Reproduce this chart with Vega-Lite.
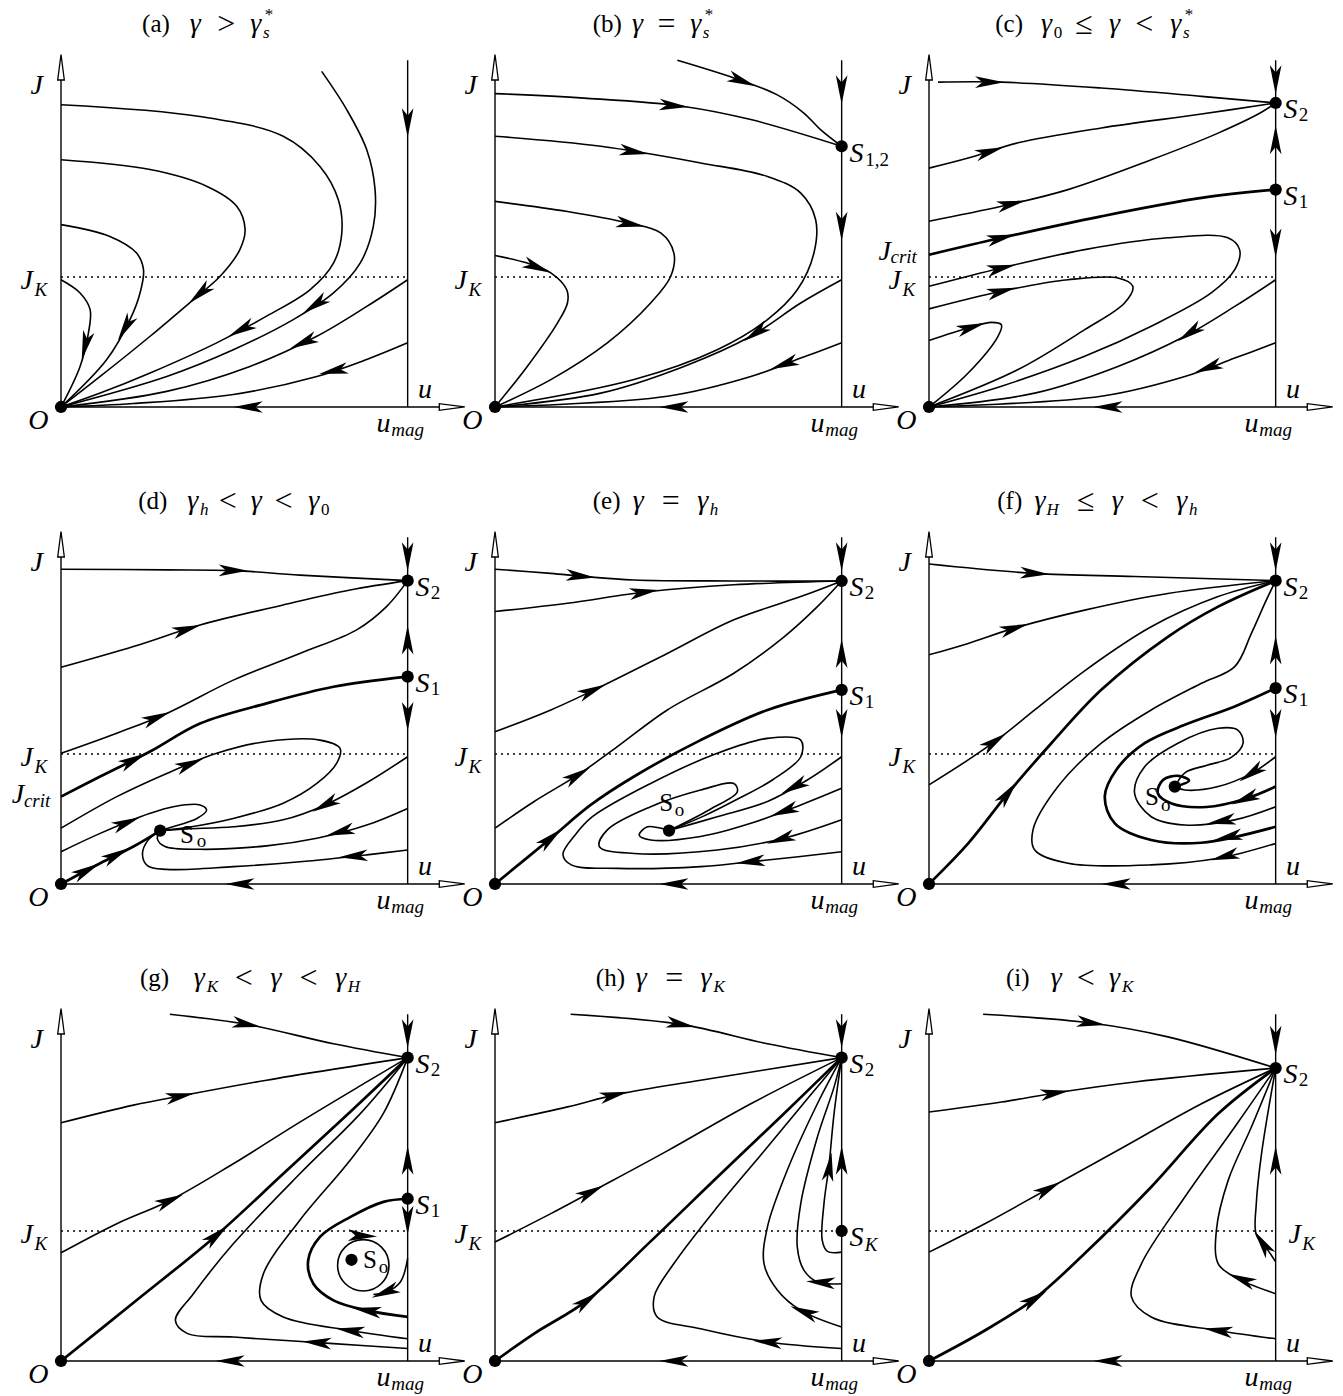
{
"$schema":"https://vega.github.io/schema/vega-lite/v6.json",
"padding":0,
"background":"white",
"spacing":0,
"bounds":"flush",
"columns":3,
"config":{"view":{"stroke":null},"text":{"font":"Liberation Serif","baseline":"middle","align":"center","color":"#000"}},
"datasets":{
"ax":[
{"c":"J","i":0,"u":0,"J":0},{"c":"J","i":1,"u":0,"J":0.99},
{"c":"u","i":0,"u":0,"J":0},{"c":"u","i":1,"u":1.13,"J":0},
{"c":"m","i":0,"u":1,"J":0},{"c":"m","i":1,"u":1,"J":1.0},
{"c":"k","i":0,"u":0,"J":0.375},{"c":"k","i":1,"u":1,"J":0.375}
],
"tp":[{"u":1.128,"J":0,"a":0},{"u":0,"J":0.98,"a":-90}],
"cy":[{"p":"g","u":0.872,"J":0.276}],
"fp":[
{"p":"*","u":0,"J":0},
{"p":"b","u":1,"J":0.752},
{"p":"c","u":1,"J":0.877},{"p":"c","u":1,"J":0.627},
{"p":"d","u":1,"J":0.875},{"p":"d","u":1,"J":0.598},{"p":"d","u":0.286,"J":0.154},
{"p":"e","u":1,"J":0.874},{"p":"e","u":1,"J":0.56},{"p":"e","u":0.502,"J":0.154},
{"p":"f","u":1,"J":0.875},{"p":"f","u":1,"J":0.565},{"p":"f","u":0.709,"J":0.281},
{"p":"g","u":1,"J":0.875},{"p":"g","u":1,"J":0.468},{"p":"g","u":0.838,"J":0.292},
{"p":"h","u":1,"J":0.875},{"p":"h","u":1,"J":0.375},
{"p":"i","u":1,"J":0.845}
],
"ar":[
{"p":"a","u":0.52,"J":0.223,"a":152},{"p":"a","u":0.4,"J":0.326,"a":139},{"p":"a","u":0.185,"J":0.228,"a":120},{"p":"a","u":0.07,"J":0.177,"a":104},{"p":"a","u":0.733,"J":0.294,"a":146},{"p":"a","u":0.699,"J":0.186,"a":156},{"p":"a","u":0.786,"J":0.104,"a":168},{"p":"a","u":0.54,"J":0,"a":180},{"p":"a","u":1,"J":0.82,"a":90},
{"p":"b","u":0.713,"J":0.94,"a":21},{"p":"b","u":0.516,"J":0.869,"a":5},{"p":"b","u":0.401,"J":0.736,"a":9},{"p":"b","u":0.391,"J":0.528,"a":10},{"p":"b","u":0.122,"J":0.403,"a":22},{"p":"b","u":0.752,"J":0.213,"a":146},{"p":"b","u":0.834,"J":0.123,"a":160},{"p":"b","u":0.516,"J":0,"a":180},{"p":"b","u":1,"J":0.915,"a":90},{"p":"b","u":1,"J":0.521,"a":90},
{"p":"c","u":0.175,"J":0.937,"a":0},{"p":"c","u":0.175,"J":0.737,"a":-17},{"p":"c","u":0.238,"J":0.586,"a":-13},{"p":"c","u":0.209,"J":0.488,"a":-13},{"p":"c","u":0.209,"J":0.401,"a":-13},{"p":"c","u":0.209,"J":0.334,"a":-14},{"p":"c","u":0.122,"J":0.23,"a":-17},{"p":"c","u":0.752,"J":0.213,"a":146},{"p":"c","u":0.805,"J":0.113,"a":160},{"p":"c","u":0.516,"J":0,"a":180},{"p":"c","u":1,"J":0.944,"a":90},{"p":"c","u":1,"J":0.771,"a":-90},{"p":"c","u":1,"J":0.473,"a":90},
{"p":"d","u":0.497,"J":0.904,"a":1},{"p":"d","u":0.363,"J":0.735,"a":-17},{"p":"d","u":0.276,"J":0.48,"a":-22},{"p":"d","u":0.209,"J":0.358,"a":-27},{"p":"d","u":0.372,"J":0.346,"a":-22},{"p":"d","u":0.189,"J":0.177,"a":-22},{"p":"d","u":0.074,"J":0.039,"a":-28},{"p":"d","u":0.16,"J":0.084,"a":-28},{"p":"d","u":0.843,"J":0.08,"a":176},{"p":"d","u":0.805,"J":0.15,"a":165},{"p":"d","u":0.762,"J":0.228,"a":152},{"p":"d","u":0.516,"J":0,"a":180},{"p":"d","u":1,"J":0.944,"a":90},{"p":"d","u":1,"J":0.704,"a":-90},{"p":"d","u":1,"J":0.483,"a":90},
{"p":"e","u":0.247,"J":0.888,"a":5},{"p":"e","u":0.43,"J":0.842,"a":-8},{"p":"e","u":0.281,"J":0.558,"a":-24},{"p":"e","u":0.238,"J":0.314,"a":-31},{"p":"e","u":0.161,"J":0.132,"a":-40},{"p":"e","u":0.737,"J":0.064,"a":174},{"p":"e","u":0.824,"J":0.129,"a":162},{"p":"e","u":0.834,"J":0.21,"a":160},{"p":"e","u":0.863,"J":0.28,"a":152},{"p":"e","u":0.516,"J":0,"a":180},{"p":"e","u":1,"J":0.944,"a":90},{"p":"e","u":1,"J":0.665,"a":-90},{"p":"e","u":1,"J":0.463,"a":90},
{"p":"f","u":0.305,"J":0.896,"a":3},{"p":"f","u":0.246,"J":0.738,"a":-17},{"p":"f","u":0.189,"J":0.411,"a":-35},{"p":"f","u":0.228,"J":0.262,"a":-52},{"p":"f","u":0.853,"J":0.079,"a":165},{"p":"f","u":0.862,"J":0.135,"a":168},{"p":"f","u":0.843,"J":0.181,"a":170},{"p":"f","u":0.911,"J":0.245,"a":158},{"p":"f","u":0.93,"J":0.319,"a":146},{"p":"f","u":0.54,"J":0,"a":180},{"p":"f","u":1,"J":0.944,"a":90},{"p":"f","u":1,"J":0.675,"a":-90},{"p":"f","u":1,"J":0.463,"a":90},
{"p":"g","u":0.536,"J":0.971,"a":10},{"p":"g","u":0.344,"J":0.764,"a":-11},{"p":"g","u":0.314,"J":0.463,"a":-24},{"p":"g","u":0.449,"J":0.363,"a":-40},{"p":"g","u":0.738,"J":0.053,"a":-176},{"p":"g","u":0.834,"J":0.088,"a":-172},{"p":"g","u":0.882,"J":0.146,"a":-171},{"p":"g","u":0.935,"J":0.198,"a":158},{"p":"g","u":0.87,"J":0.361,"a":3},{"p":"g","u":0.488,"J":0,"a":180},{"p":"g","u":1,"J":0.944,"a":90},{"p":"g","u":1,"J":0.579,"a":-90},{"p":"g","u":1,"J":0.406,"a":90},
{"p":"h","u":0.536,"J":0.971,"a":10},{"p":"h","u":0.344,"J":0.767,"a":-13},{"p":"h","u":0.276,"J":0.487,"a":-27},{"p":"h","u":0.266,"J":0.175,"a":-36},{"p":"h","u":0.786,"J":0.055,"a":-175},{"p":"h","u":0.891,"J":0.142,"a":-158},{"p":"h","u":0.939,"J":0.227,"a":-176},{"p":"h","u":0.965,"J":0.56,"a":-82},{"p":"h","u":0.516,"J":0,"a":180},{"p":"h","u":1,"J":0.944,"a":90},{"p":"h","u":1,"J":0.579,"a":-90},
{"p":"i","u":0.468,"J":0.975,"a":8},{"p":"i","u":0.363,"J":0.773,"a":-9},{"p":"i","u":0.344,"J":0.497,"a":-29},{"p":"i","u":0.305,"J":0.18,"a":-33},{"p":"i","u":0.834,"J":0.088,"a":-172},{"p":"i","u":0.901,"J":0.236,"a":-158},{"p":"i","u":0.962,"J":0.34,"a":-124},{"p":"i","u":0.516,"J":0,"a":180},{"p":"i","u":1,"J":0.925,"a":90},{"p":"i","u":1,"J":0.579,"a":-90}
],
"tx":[
{"p":"*","u":-0.07,"J":0.925,"t":"J","k":"m"},{"p":"*","u":-0.065,"J":-0.04,"t":"O","k":"m"},{"p":"*","u":1.05,"J":0.048,"t":"u","k":"m"},{"p":"*","u":0.93,"J":-0.05,"t":"u","k":"m"},{"p":"*","u":1.0,"J":-0.066,"t":"mag","k":"s"},
{"p":"L","u":-0.099,"J":0.362,"t":"J","k":"m"},{"p":"L","u":-0.058,"J":0.338,"t":"K","k":"s"},
{"p":"a","u":0.274,"J":1.105,"t":"(a)","k":"r"},{"p":"a","u":0.387,"J":1.105,"t":"γ","k":"m"},{"p":"a","u":0.477,"J":1.105,"t":">","k":"o"},{"p":"a","u":0.562,"J":1.105,"t":"γ","k":"m"},{"p":"a","u":0.592,"J":1.08,"t":"s","k":"ts"},{"p":"a","u":0.6,"J":1.132,"t":"*","k":"tn"},
{"p":"b","u":0.324,"J":1.105,"t":"(b)","k":"r"},{"p":"b","u":0.411,"J":1.105,"t":"γ","k":"m"},{"p":"b","u":0.495,"J":1.105,"t":"=","k":"o"},{"p":"b","u":0.579,"J":1.105,"t":"γ","k":"m"},{"p":"b","u":0.609,"J":1.08,"t":"s","k":"ts"},{"p":"b","u":0.617,"J":1.132,"t":"*","k":"tn"},
{"p":"b","u":1.043,"J":0.731,"t":"S","k":"m"},{"p":"b","u":1.102,"J":0.712,"t":"1,2","k":"n"},
{"p":"c","u":0.231,"J":1.105,"t":"(c)","k":"r"},{"p":"c","u":0.339,"J":1.105,"t":"γ","k":"m"},{"p":"c","u":0.372,"J":1.08,"t":"0","k":"tn"},{"p":"c","u":0.447,"J":1.105,"t":"≤","k":"o"},{"p":"c","u":0.535,"J":1.105,"t":"γ","k":"m"},{"p":"c","u":0.621,"J":1.105,"t":"<","k":"o"},{"p":"c","u":0.712,"J":1.105,"t":"γ","k":"m"},{"p":"c","u":0.742,"J":1.08,"t":"s","k":"ts"},{"p":"c","u":0.75,"J":1.132,"t":"*","k":"tn"},
{"p":"c","u":1.043,"J":0.856,"t":"S","k":"m"},{"p":"c","u":1.08,"J":0.842,"t":"2","k":"n"},{"p":"c","u":1.043,"J":0.606,"t":"S","k":"m"},{"p":"c","u":1.08,"J":0.592,"t":"1","k":"n"},{"p":"c","u":-0.128,"J":0.447,"t":"J","k":"m"},{"p":"c","u":-0.073,"J":0.433,"t":"crit","k":"s"},
{"p":"d","u":0.265,"J":1.105,"t":"(d)","k":"r"},{"p":"d","u":0.38,"J":1.105,"t":"γ","k":"m"},{"p":"d","u":0.413,"J":1.08,"t":"h","k":"ts"},{"p":"d","u":0.481,"J":1.105,"t":"<","k":"o"},{"p":"d","u":0.563,"J":1.105,"t":"γ","k":"m"},{"p":"d","u":0.642,"J":1.105,"t":"<","k":"o"},{"p":"d","u":0.729,"J":1.105,"t":"γ","k":"m"},{"p":"d","u":0.762,"J":1.08,"t":"0","k":"tn"},
{"p":"d","u":1.043,"J":0.854,"t":"S","k":"m"},{"p":"d","u":1.08,"J":0.84,"t":"2","k":"n"},{"p":"d","u":1.043,"J":0.577,"t":"S","k":"m"},{"p":"d","u":1.08,"J":0.563,"t":"1","k":"n"},{"p":"d","u":0.363,"J":0.142,"t":"S","k":"r"},{"p":"d","u":0.405,"J":0.125,"t":"o","k":"n"},{"p":"d","u":-0.124,"J":0.258,"t":"J","k":"m"},{"p":"d","u":-0.069,"J":0.24,"t":"crit","k":"s"},
{"p":"e","u":0.322,"J":1.105,"t":"(e)","k":"r"},{"p":"e","u":0.413,"J":1.105,"t":"γ","k":"m"},{"p":"e","u":0.507,"J":1.105,"t":"=","k":"o"},{"p":"e","u":0.599,"J":1.105,"t":"γ","k":"m"},{"p":"e","u":0.632,"J":1.08,"t":"h","k":"ts"},
{"p":"e","u":1.043,"J":0.853,"t":"S","k":"m"},{"p":"e","u":1.08,"J":0.839,"t":"2","k":"n"},{"p":"e","u":1.043,"J":0.539,"t":"S","k":"m"},{"p":"e","u":1.08,"J":0.525,"t":"1","k":"n"},{"p":"e","u":0.494,"J":0.233,"t":"S","k":"r"},{"p":"e","u":0.532,"J":0.212,"t":"o","k":"n"},
{"p":"f","u":0.233,"J":1.105,"t":"(f)","k":"r"},{"p":"f","u":0.32,"J":1.105,"t":"γ","k":"m"},{"p":"f","u":0.357,"J":1.08,"t":"H","k":"ts"},{"p":"f","u":0.452,"J":1.105,"t":"≤","k":"o"},{"p":"f","u":0.543,"J":1.105,"t":"γ","k":"m"},{"p":"f","u":0.637,"J":1.105,"t":"<","k":"o"},{"p":"f","u":0.729,"J":1.105,"t":"γ","k":"m"},{"p":"f","u":0.762,"J":1.08,"t":"h","k":"ts"},
{"p":"f","u":1.043,"J":0.854,"t":"S","k":"m"},{"p":"f","u":1.08,"J":0.84,"t":"2","k":"n"},{"p":"f","u":1.043,"J":0.544,"t":"S","k":"m"},{"p":"f","u":1.08,"J":0.53,"t":"1","k":"n"},{"p":"f","u":0.643,"J":0.25,"t":"S","k":"r"},{"p":"f","u":0.683,"J":0.228,"t":"o","k":"n"},
{"p":"g","u":0.27,"J":1.105,"t":"(g)","k":"r"},{"p":"g","u":0.399,"J":1.105,"t":"γ","k":"m"},{"p":"g","u":0.437,"J":1.08,"t":"K","k":"ts"},{"p":"g","u":0.527,"J":1.105,"t":"<","k":"o"},{"p":"g","u":0.62,"J":1.105,"t":"γ","k":"m"},{"p":"g","u":0.714,"J":1.105,"t":"<","k":"o"},{"p":"g","u":0.807,"J":1.105,"t":"γ","k":"m"},{"p":"g","u":0.845,"J":1.08,"t":"H","k":"ts"},
{"p":"g","u":1.043,"J":0.854,"t":"S","k":"m"},{"p":"g","u":1.08,"J":0.84,"t":"2","k":"n"},{"p":"g","u":1.043,"J":0.447,"t":"S","k":"m"},{"p":"g","u":1.08,"J":0.433,"t":"1","k":"n"},{"p":"g","u":0.891,"J":0.29,"t":"S","k":"r"},{"p":"g","u":0.93,"J":0.272,"t":"o","k":"n"},
{"p":"h","u":0.333,"J":1.105,"t":"(h)","k":"r"},{"p":"h","u":0.422,"J":1.105,"t":"γ","k":"m"},{"p":"h","u":0.517,"J":1.105,"t":"=","k":"o"},{"p":"h","u":0.609,"J":1.105,"t":"γ","k":"m"},{"p":"h","u":0.647,"J":1.08,"t":"K","k":"ts"},
{"p":"h","u":1.043,"J":0.854,"t":"S","k":"m"},{"p":"h","u":1.08,"J":0.84,"t":"2","k":"n"},{"p":"h","u":1.043,"J":0.354,"t":"S","k":"m"},{"p":"h","u":1.085,"J":0.335,"t":"K","k":"s"},
{"p":"i","u":0.256,"J":1.105,"t":"(i)","k":"r"},{"p":"i","u":0.367,"J":1.105,"t":"γ","k":"m"},{"p":"i","u":0.452,"J":1.105,"t":"<","k":"o"},{"p":"i","u":0.535,"J":1.105,"t":"γ","k":"m"},{"p":"i","u":0.573,"J":1.08,"t":"K","k":"ts"},
{"p":"i","u":1.043,"J":0.824,"t":"S","k":"m"},{"p":"i","u":1.08,"J":0.81,"t":"2","k":"n"},{"p":"i","u":1.055,"J":0.362,"t":"J","k":"m"},{"p":"i","u":1.095,"J":0.338,"t":"K","k":"s"}
],
"cv":[
{"p":"a","c":1,"i":0,"u":0,"J":0.872},{"p":"a","c":1,"i":1,"u":0.401,"J":0.838},{"p":"a","c":1,"i":2,"u":0.641,"J":0.781},{"p":"a","c":1,"i":3,"u":0.747,"J":0.694},{"p":"a","c":1,"i":4,"u":0.8,"J":0.598},{"p":"a","c":1,"i":5,"u":0.81,"J":0.502},{"p":"a","c":1,"i":6,"u":0.786,"J":0.415},{"p":"a","c":1,"i":7,"u":0.718,"J":0.338},{"p":"a","c":1,"i":8,"u":0.593,"J":0.262},{"p":"a","c":1,"i":9,"u":0.449,"J":0.185},{"p":"a","c":1,"i":10,"u":0.257,"J":0.098},{"p":"a","c":1,"i":11,"u":0.113,"J":0.04},{"p":"a","c":1,"i":12,"u":0,"J":0},
{"p":"a","c":2,"i":0,"u":0,"J":0.713},{"p":"a","c":2,"i":1,"u":0.257,"J":0.685},{"p":"a","c":2,"i":2,"u":0.42,"J":0.637},{"p":"a","c":2,"i":3,"u":0.507,"J":0.579},{"p":"a","c":2,"i":4,"u":0.531,"J":0.512},{"p":"a","c":2,"i":5,"u":0.516,"J":0.454},{"p":"a","c":2,"i":6,"u":0.459,"J":0.377},{"p":"a","c":2,"i":7,"u":0.382,"J":0.31},{"p":"a","c":2,"i":8,"u":0.257,"J":0.204},{"p":"a","c":2,"i":9,"u":0.113,"J":0.088},{"p":"a","c":2,"i":10,"u":0,"J":0},
{"p":"a","c":3,"i":0,"u":0,"J":0.526},{"p":"a","c":3,"i":1,"u":0.141,"J":0.492},{"p":"a","c":3,"i":2,"u":0.218,"J":0.444},{"p":"a","c":3,"i":3,"u":0.238,"J":0.396},{"p":"a","c":3,"i":4,"u":0.228,"J":0.329},{"p":"a","c":3,"i":5,"u":0.199,"J":0.252},{"p":"a","c":3,"i":6,"u":0.132,"J":0.137},{"p":"a","c":3,"i":7,"u":0,"J":0},
{"p":"a","c":4,"i":0,"u":0,"J":0.367},{"p":"a","c":4,"i":1,"u":0.055,"J":0.329},{"p":"a","c":4,"i":2,"u":0.084,"J":0.281},{"p":"a","c":4,"i":3,"u":0.079,"J":0.213},{"p":"a","c":4,"i":4,"u":0.055,"J":0.117},{"p":"a","c":4,"i":5,"u":0,"J":0},
{"p":"a","c":5,"i":0,"u":0.752,"J":0.968},{"p":"a","c":5,"i":1,"u":0.824,"J":0.858},{"p":"a","c":5,"i":2,"u":0.882,"J":0.742},{"p":"a","c":5,"i":3,"u":0.906,"J":0.627},{"p":"a","c":5,"i":4,"u":0.901,"J":0.521},{"p":"a","c":5,"i":5,"u":0.863,"J":0.415},{"p":"a","c":5,"i":6,"u":0.786,"J":0.329},{"p":"a","c":5,"i":7,"u":0.67,"J":0.252},{"p":"a","c":5,"i":8,"u":0.497,"J":0.165},{"p":"a","c":5,"i":9,"u":0.305,"J":0.088},{"p":"a","c":5,"i":10,"u":0,"J":0},
{"p":"a","c":6,"i":0,"u":1,"J":0.367},{"p":"a","c":6,"i":1,"u":0.882,"J":0.29},{"p":"a","c":6,"i":2,"u":0.738,"J":0.204},{"p":"a","c":6,"i":3,"u":0.545,"J":0.117},{"p":"a","c":6,"i":4,"u":0.305,"J":0.045},{"p":"a","c":6,"i":5,"u":0,"J":0},
{"p":"a","c":7,"i":0,"u":1,"J":0.185},{"p":"a","c":7,"i":1,"u":0.882,"J":0.137},{"p":"a","c":7,"i":2,"u":0.738,"J":0.088},{"p":"a","c":7,"i":3,"u":0.497,"J":0.036},{"p":"a","c":7,"i":4,"u":0.209,"J":0.01},{"p":"a","c":7,"i":5,"u":0,"J":0},

{"p":"b","c":0,"i":0,"u":0.526,"J":1.0},{"p":"b","c":0,"i":1,"u":0.689,"J":0.949},{"p":"b","c":0,"i":2,"u":0.813,"J":0.901},{"p":"b","c":0,"i":3,"u":0.891,"J":0.848},{"p":"b","c":0,"i":4,"u":0.939,"J":0.8},{"p":"b","c":0,"i":5,"u":1,"J":0.752},
{"p":"b","c":1,"i":0,"u":0,"J":0.904},{"p":"b","c":1,"i":1,"u":0.257,"J":0.891},{"p":"b","c":1,"i":2,"u":0.545,"J":0.867},{"p":"b","c":1,"i":3,"u":0.738,"J":0.829},{"p":"b","c":1,"i":4,"u":1,"J":0.752},
{"p":"b","c":2,"i":0,"u":0,"J":0.781},{"p":"b","c":2,"i":1,"u":0.305,"J":0.752},{"p":"b","c":2,"i":2,"u":0.593,"J":0.704},{"p":"b","c":2,"i":3,"u":0.786,"J":0.665},{"p":"b","c":2,"i":4,"u":0.882,"J":0.617},{"p":"b","c":2,"i":5,"u":0.925,"J":0.54},{"p":"b","c":2,"i":6,"u":0.92,"J":0.444},{"p":"b","c":2,"i":7,"u":0.872,"J":0.338},{"p":"b","c":2,"i":8,"u":0.786,"J":0.252},{"p":"b","c":2,"i":9,"u":0.641,"J":0.165},{"p":"b","c":2,"i":10,"u":0.401,"J":0.079},{"p":"b","c":2,"i":11,"u":0,"J":0},
{"p":"b","c":3,"i":0,"u":0,"J":0.593},{"p":"b","c":3,"i":1,"u":0.209,"J":0.564},{"p":"b","c":3,"i":2,"u":0.382,"J":0.531},{"p":"b","c":3,"i":3,"u":0.478,"J":0.502},{"p":"b","c":3,"i":4,"u":0.516,"J":0.444},{"p":"b","c":3,"i":5,"u":0.507,"J":0.377},{"p":"b","c":3,"i":6,"u":0.449,"J":0.3},{"p":"b","c":3,"i":7,"u":0.324,"J":0.185},{"p":"b","c":3,"i":8,"u":0.161,"J":0.079},{"p":"b","c":3,"i":9,"u":0,"J":0},
{"p":"b","c":4,"i":0,"u":0,"J":0.437},{"p":"b","c":4,"i":1,"u":0.093,"J":0.415},{"p":"b","c":4,"i":2,"u":0.161,"J":0.387},{"p":"b","c":4,"i":3,"u":0.207,"J":0.338},{"p":"b","c":4,"i":4,"u":0.209,"J":0.3},{"p":"b","c":4,"i":5,"u":0.18,"J":0.242},{"p":"b","c":4,"i":6,"u":0.093,"J":0.117},{"p":"b","c":4,"i":7,"u":0,"J":0},
{"p":"b","c":5,"i":0,"u":1,"J":0.367},{"p":"b","c":5,"i":1,"u":0.882,"J":0.3},{"p":"b","c":5,"i":2,"u":0.738,"J":0.204},{"p":"b","c":5,"i":3,"u":0.545,"J":0.117},{"p":"b","c":5,"i":4,"u":0.305,"J":0.04},{"p":"b","c":5,"i":5,"u":0,"J":0},
{"p":"b","c":6,"i":0,"u":1,"J":0.185},{"p":"b","c":6,"i":1,"u":0.882,"J":0.141},{"p":"b","c":6,"i":2,"u":0.738,"J":0.088},{"p":"b","c":6,"i":3,"u":0.497,"J":0.031},{"p":"b","c":6,"i":4,"u":0,"J":0},

{"p":"c","c":1,"i":0,"u":0.026,"J":0.937},{"p":"c","c":1,"i":1,"u":0.209,"J":0.937},{"p":"c","c":1,"i":2,"u":0.497,"J":0.92},{"p":"c","c":1,"i":3,"u":0.786,"J":0.896},{"p":"c","c":1,"i":4,"u":1,"J":0.877},
{"p":"c","c":2,"i":0,"u":0,"J":0.689},{"p":"c","c":2,"i":1,"u":0.113,"J":0.718},{"p":"c","c":2,"i":2,"u":0.257,"J":0.762},{"p":"c","c":2,"i":3,"u":0.497,"J":0.805},{"p":"c","c":2,"i":4,"u":0.786,"J":0.845},{"p":"c","c":2,"i":5,"u":1,"J":0.877},
{"p":"c","c":3,"i":0,"u":0,"J":0.536},{"p":"c","c":3,"i":1,"u":0.209,"J":0.579},{"p":"c","c":3,"i":2,"u":0.401,"J":0.627},{"p":"c","c":3,"i":3,"u":0.641,"J":0.713},{"p":"c","c":3,"i":4,"u":0.834,"J":0.79},{"p":"c","c":3,"i":5,"u":0.959,"J":0.85},{"p":"c","c":3,"i":6,"u":1,"J":0.877},
{"p":"c","c":4,"s":1,"i":0,"u":0,"J":0.439},{"p":"c","c":4,"s":1,"i":1,"u":0.209,"J":0.488},{"p":"c","c":4,"s":1,"i":2,"u":0.497,"J":0.55},{"p":"c","c":4,"s":1,"i":3,"u":0.786,"J":0.603},{"p":"c","c":4,"s":1,"i":4,"u":1,"J":0.627},
{"p":"c","c":5,"i":0,"u":0,"J":0.348},{"p":"c","c":5,"i":1,"u":0.209,"J":0.401},{"p":"c","c":5,"i":2,"u":0.449,"J":0.454},{"p":"c","c":5,"i":3,"u":0.689,"J":0.488},{"p":"c","c":5,"i":4,"u":0.862,"J":0.488},{"p":"c","c":5,"i":5,"u":0.896,"J":0.454},{"p":"c","c":5,"i":6,"u":0.882,"J":0.396},{"p":"c","c":5,"i":7,"u":0.814,"J":0.329},{"p":"c","c":5,"i":8,"u":0.641,"J":0.233},{"p":"c","c":5,"i":9,"u":0.449,"J":0.146},{"p":"c","c":5,"i":10,"u":0.209,"J":0.06},{"p":"c","c":5,"i":11,"u":0,"J":0},
{"p":"c","c":6,"i":0,"u":0,"J":0.283},{"p":"c","c":6,"i":1,"u":0.209,"J":0.334},{"p":"c","c":6,"i":2,"u":0.401,"J":0.367},{"p":"c","c":6,"i":3,"u":0.545,"J":0.372},{"p":"c","c":6,"i":4,"u":0.588,"J":0.348},{"p":"c","c":6,"i":5,"u":0.564,"J":0.3},{"p":"c","c":6,"i":6,"u":0.449,"J":0.223},{"p":"c","c":6,"i":7,"u":0.257,"J":0.108},{"p":"c","c":6,"i":8,"u":0,"J":0},
{"p":"c","c":7,"i":0,"u":0,"J":0.192},{"p":"c","c":7,"i":1,"u":0.113,"J":0.228},{"p":"c","c":7,"i":2,"u":0.18,"J":0.244},{"p":"c","c":7,"i":3,"u":0.209,"J":0.237},{"p":"c","c":7,"i":4,"u":0.199,"J":0.204},{"p":"c","c":7,"i":5,"u":0.113,"J":0.098},{"p":"c","c":7,"i":6,"u":0,"J":0},
{"p":"c","c":8,"i":0,"u":1,"J":0.367},{"p":"c","c":8,"i":1,"u":0.882,"J":0.29},{"p":"c","c":8,"i":2,"u":0.738,"J":0.204},{"p":"c","c":8,"i":3,"u":0.545,"J":0.117},{"p":"c","c":8,"i":4,"u":0.305,"J":0.04},{"p":"c","c":8,"i":5,"u":0,"J":0},
{"p":"c","c":9,"i":0,"u":1,"J":0.185},{"p":"c","c":9,"i":1,"u":0.882,"J":0.141},{"p":"c","c":9,"i":2,"u":0.738,"J":0.088},{"p":"c","c":9,"i":3,"u":0.497,"J":0.031},{"p":"c","c":9,"i":4,"u":0,"J":0},

{"p":"d","c":1,"i":0,"u":0,"J":0.908},{"p":"d","c":1,"i":1,"u":0.305,"J":0.906},{"p":"d","c":1,"i":2,"u":0.497,"J":0.904},{"p":"d","c":1,"i":3,"u":0.689,"J":0.891},{"p":"d","c":1,"i":4,"u":1,"J":0.875},
{"p":"d","c":2,"i":0,"u":0,"J":0.625},{"p":"d","c":2,"i":1,"u":0.209,"J":0.685},{"p":"d","c":2,"i":2,"u":0.401,"J":0.747},{"p":"d","c":2,"i":3,"u":0.641,"J":0.805},{"p":"d","c":2,"i":4,"u":0.834,"J":0.848},{"p":"d","c":2,"i":5,"u":1,"J":0.875},
{"p":"d","c":3,"i":0,"u":0,"J":0.377},{"p":"d","c":3,"i":1,"u":0.161,"J":0.435},{"p":"d","c":3,"i":2,"u":0.305,"J":0.492},{"p":"d","c":3,"i":3,"u":0.497,"J":0.588},{"p":"d","c":3,"i":4,"u":0.689,"J":0.665},{"p":"d","c":3,"i":5,"u":0.853,"J":0.733},{"p":"d","c":3,"i":6,"u":0.939,"J":0.8},{"p":"d","c":3,"i":7,"u":1,"J":0.875},
{"p":"d","c":4,"s":1,"i":0,"u":0,"J":0.252},{"p":"d","c":4,"s":1,"i":1,"u":0.113,"J":0.31},{"p":"d","c":4,"s":1,"i":2,"u":0.257,"J":0.382},{"p":"d","c":4,"s":1,"i":3,"u":0.401,"J":0.463},{"p":"d","c":4,"s":1,"i":4,"u":0.593,"J":0.521},{"p":"d","c":4,"s":1,"i":5,"u":0.786,"J":0.569},{"p":"d","c":4,"s":1,"i":6,"u":1,"J":0.598},
{"p":"d","c":5,"i":0,"u":0,"J":0.161},{"p":"d","c":5,"i":1,"u":0.161,"J":0.252},{"p":"d","c":5,"i":2,"u":0.305,"J":0.319},{"p":"d","c":5,"i":3,"u":0.449,"J":0.377},{"p":"d","c":5,"i":4,"u":0.593,"J":0.411},{"p":"d","c":5,"i":5,"u":0.747,"J":0.415},{"p":"d","c":5,"i":6,"u":0.805,"J":0.391},{"p":"d","c":5,"i":7,"u":0.795,"J":0.348},{"p":"d","c":5,"i":8,"u":0.738,"J":0.29},{"p":"d","c":5,"i":9,"u":0.641,"J":0.233},{"p":"d","c":5,"i":10,"u":0.497,"J":0.189},{"p":"d","c":5,"i":11,"u":0.363,"J":0.163},{"p":"d","c":5,"i":12,"u":0.286,"J":0.154},
{"p":"d","c":6,"i":0,"u":0,"J":0.093},{"p":"d","c":6,"i":1,"u":0.113,"J":0.146},{"p":"d","c":6,"i":2,"u":0.257,"J":0.204},{"p":"d","c":6,"i":3,"u":0.324,"J":0.223},{"p":"d","c":6,"i":4,"u":0.401,"J":0.228},{"p":"d","c":6,"i":5,"u":0.42,"J":0.213},{"p":"d","c":6,"i":6,"u":0.392,"J":0.189},{"p":"d","c":6,"i":7,"u":0.315,"J":0.163},{"p":"d","c":6,"i":8,"u":0.286,"J":0.154},
{"p":"d","c":7,"s":1,"i":0,"u":0,"J":0},{"p":"d","c":7,"s":1,"i":1,"u":0.113,"J":0.06},{"p":"d","c":7,"s":1,"i":2,"u":0.209,"J":0.108},{"p":"d","c":7,"s":1,"i":3,"u":0.286,"J":0.154},
{"p":"d","c":8,"i":0,"u":1,"J":0.098},{"p":"d","c":8,"i":1,"u":0.882,"J":0.084},{"p":"d","c":8,"i":2,"u":0.689,"J":0.064},{"p":"d","c":8,"i":3,"u":0.497,"J":0.05},{"p":"d","c":8,"i":4,"u":0.305,"J":0.042},{"p":"d","c":8,"i":5,"u":0.25,"J":0.052},{"p":"d","c":8,"i":6,"u":0.235,"J":0.085},{"p":"d","c":8,"i":7,"u":0.25,"J":0.125},{"p":"d","c":8,"i":8,"u":0.286,"J":0.154},
{"p":"d","c":9,"i":0,"u":1,"J":0.218},{"p":"d","c":9,"i":1,"u":0.882,"J":0.17},{"p":"d","c":9,"i":2,"u":0.738,"J":0.132},{"p":"d","c":9,"i":3,"u":0.593,"J":0.11},{"p":"d","c":9,"i":4,"u":0.401,"J":0.1},{"p":"d","c":9,"i":5,"u":0.3,"J":0.108},{"p":"d","c":9,"i":6,"u":0.278,"J":0.13},{"p":"d","c":9,"i":7,"u":0.286,"J":0.154},
{"p":"d","c":10,"i":0,"u":1,"J":0.367},{"p":"d","c":10,"i":1,"u":0.882,"J":0.292},{"p":"d","c":10,"i":2,"u":0.762,"J":0.228},{"p":"d","c":10,"i":3,"u":0.641,"J":0.185},{"p":"d","c":10,"i":4,"u":0.497,"J":0.165},{"p":"d","c":10,"i":5,"u":0.363,"J":0.159},{"p":"d","c":10,"i":6,"u":0.286,"J":0.154},

{"p":"e","c":1,"i":0,"u":0,"J":0.908},{"p":"e","c":1,"i":1,"u":0.161,"J":0.896},{"p":"e","c":1,"i":2,"u":0.257,"J":0.887},{"p":"e","c":1,"i":3,"u":0.401,"J":0.877},{"p":"e","c":1,"i":4,"u":0.689,"J":0.874},{"p":"e","c":1,"i":5,"u":1,"J":0.874},
{"p":"e","c":2,"i":0,"u":0,"J":0.786},{"p":"e","c":2,"i":1,"u":0.209,"J":0.81},{"p":"e","c":2,"i":2,"u":0.44,"J":0.843},{"p":"e","c":2,"i":3,"u":0.689,"J":0.863},{"p":"e","c":2,"i":4,"u":1,"J":0.874},
{"p":"e","c":3,"i":0,"u":0,"J":0.439},{"p":"e","c":3,"i":1,"u":0.161,"J":0.502},{"p":"e","c":3,"i":2,"u":0.305,"J":0.569},{"p":"e","c":3,"i":3,"u":0.497,"J":0.665},{"p":"e","c":3,"i":4,"u":0.689,"J":0.762},{"p":"e","c":3,"i":5,"u":0.882,"J":0.829},{"p":"e","c":3,"i":6,"u":1,"J":0.874},
{"p":"e","c":4,"i":0,"u":0,"J":0.161},{"p":"e","c":4,"i":1,"u":0.113,"J":0.238},{"p":"e","c":4,"i":2,"u":0.238,"J":0.314},{"p":"e","c":4,"i":3,"u":0.353,"J":0.396},{"p":"e","c":4,"i":4,"u":0.497,"J":0.502},{"p":"e","c":4,"i":5,"u":0.689,"J":0.608},{"p":"e","c":4,"i":6,"u":0.834,"J":0.713},{"p":"e","c":4,"i":7,"u":0.93,"J":0.8},{"p":"e","c":4,"i":8,"u":1,"J":0.874},
{"p":"e","c":5,"s":1,"i":0,"u":0,"J":0},{"p":"e","c":5,"s":1,"i":1,"u":0.161,"J":0.132},{"p":"e","c":5,"s":1,"i":2,"u":0.276,"J":0.228},{"p":"e","c":5,"s":1,"i":3,"u":0.401,"J":0.31},{"p":"e","c":5,"s":1,"i":4,"u":0.593,"J":0.415},{"p":"e","c":5,"s":1,"i":5,"u":0.786,"J":0.502},{"p":"e","c":5,"s":1,"i":6,"u":1,"J":0.56},
{"p":"e","c":6,"i":0,"u":1,"J":0.093},{"p":"e","c":6,"i":1,"u":0.786,"J":0.069},{"p":"e","c":6,"i":2,"u":0.593,"J":0.05},{"p":"e","c":6,"i":3,"u":0.353,"J":0.045},{"p":"e","c":6,"i":4,"u":0.22,"J":0.055},{"p":"e","c":6,"i":5,"u":0.196,"J":0.085},{"p":"e","c":6,"i":6,"u":0.23,"J":0.14},{"p":"e","c":6,"i":7,"u":0.281,"J":0.194},{"p":"e","c":6,"i":8,"u":0.449,"J":0.29},{"p":"e","c":6,"i":9,"u":0.641,"J":0.377},{"p":"e","c":6,"i":10,"u":0.786,"J":0.42},{"p":"e","c":6,"i":11,"u":0.882,"J":0.415},{"p":"e","c":6,"i":12,"u":0.882,"J":0.367},{"p":"e","c":6,"i":13,"u":0.8,"J":0.3},{"p":"e","c":6,"i":14,"u":0.7,"J":0.245},{"p":"e","c":6,"i":15,"u":0.6,"J":0.195},{"p":"e","c":6,"i":16,"u":0.502,"J":0.154},
{"p":"e","c":7,"i":0,"u":1,"J":0.185},{"p":"e","c":7,"i":1,"u":0.834,"J":0.132},{"p":"e","c":7,"i":2,"u":0.641,"J":0.098},{"p":"e","c":7,"i":3,"u":0.401,"J":0.088},{"p":"e","c":7,"i":4,"u":0.301,"J":0.108},{"p":"e","c":7,"i":5,"u":0.324,"J":0.156},{"p":"e","c":7,"i":6,"u":0.449,"J":0.223},{"p":"e","c":7,"i":7,"u":0.593,"J":0.271},{"p":"e","c":7,"i":8,"u":0.689,"J":0.29},{"p":"e","c":7,"i":9,"u":0.699,"J":0.266},{"p":"e","c":7,"i":10,"u":0.62,"J":0.215},{"p":"e","c":7,"i":11,"u":0.502,"J":0.154},
{"p":"e","c":8,"i":0,"u":1,"J":0.367},{"p":"e","c":8,"i":1,"u":0.901,"J":0.3},{"p":"e","c":8,"i":2,"u":0.786,"J":0.238},{"p":"e","c":8,"i":3,"u":0.641,"J":0.194},{"p":"e","c":8,"i":4,"u":0.502,"J":0.154},
{"p":"e","c":9,"i":0,"u":1,"J":0.276},{"p":"e","c":9,"i":1,"u":0.882,"J":0.228},{"p":"e","c":9,"i":2,"u":0.738,"J":0.175},{"p":"e","c":9,"i":3,"u":0.593,"J":0.137},{"p":"e","c":9,"i":4,"u":0.449,"J":0.127},{"p":"e","c":9,"i":5,"u":0.416,"J":0.141},{"p":"e","c":9,"i":6,"u":0.44,"J":0.165},{"p":"e","c":9,"i":7,"u":0.502,"J":0.154},

{"p":"f","c":1,"i":0,"u":0,"J":0.923},{"p":"f","c":1,"i":1,"u":0.305,"J":0.896},{"p":"f","c":1,"i":2,"u":0.593,"J":0.887},{"p":"f","c":1,"i":3,"u":1,"J":0.875},
{"p":"f","c":2,"i":0,"u":0,"J":0.661},{"p":"f","c":2,"i":1,"u":0.113,"J":0.694},{"p":"f","c":2,"i":2,"u":0.246,"J":0.738},{"p":"f","c":2,"i":3,"u":0.449,"J":0.79},{"p":"f","c":2,"i":4,"u":0.689,"J":0.838},{"p":"f","c":2,"i":5,"u":1,"J":0.875},
{"p":"f","c":3,"i":0,"u":0,"J":0.286},{"p":"f","c":3,"i":1,"u":0.113,"J":0.358},{"p":"f","c":3,"i":2,"u":0.209,"J":0.425},{"p":"f","c":3,"i":3,"u":0.305,"J":0.502},{"p":"f","c":3,"i":4,"u":0.449,"J":0.615},{"p":"f","c":3,"i":5,"u":0.641,"J":0.742},{"p":"f","c":3,"i":6,"u":0.834,"J":0.829},{"p":"f","c":3,"i":7,"u":1,"J":0.875},
{"p":"f","c":4,"s":1,"i":0,"u":0,"J":0},{"p":"f","c":4,"s":1,"i":1,"u":0.113,"J":0.117},{"p":"f","c":4,"s":1,"i":2,"u":0.228,"J":0.262},{"p":"f","c":4,"s":1,"i":3,"u":0.353,"J":0.406},{"p":"f","c":4,"s":1,"i":4,"u":0.497,"J":0.56},{"p":"f","c":4,"s":1,"i":5,"u":0.689,"J":0.713},{"p":"f","c":4,"s":1,"i":6,"u":0.834,"J":0.8},{"p":"f","c":4,"s":1,"i":7,"u":1,"J":0.875},
{"p":"f","c":5,"i":0,"u":1,"J":0.117},{"p":"f","c":5,"i":1,"u":0.834,"J":0.074},{"p":"f","c":5,"i":2,"u":0.641,"J":0.055},{"p":"f","c":5,"i":3,"u":0.401,"J":0.06},{"p":"f","c":5,"i":4,"u":0.305,"J":0.098},{"p":"f","c":5,"i":5,"u":0.3,"J":0.156},{"p":"f","c":5,"i":6,"u":0.372,"J":0.281},{"p":"f","c":5,"i":7,"u":0.497,"J":0.406},{"p":"f","c":5,"i":8,"u":0.641,"J":0.502},{"p":"f","c":5,"i":9,"u":0.786,"J":0.579},{"p":"f","c":5,"i":10,"u":0.882,"J":0.627},{"p":"f","c":5,"i":11,"u":0.93,"J":0.723},{"p":"f","c":5,"i":12,"u":0.969,"J":0.81},{"p":"f","c":5,"i":13,"u":1,"J":0.875},
{"p":"f","c":6,"s":1,"i":0,"u":1,"J":0.565},{"p":"f","c":6,"s":1,"i":1,"u":0.882,"J":0.512},{"p":"f","c":6,"s":1,"i":2,"u":0.738,"J":0.459},{"p":"f","c":6,"s":1,"i":3,"u":0.622,"J":0.406},{"p":"f","c":6,"s":1,"i":4,"u":0.54,"J":0.329},{"p":"f","c":6,"s":1,"i":5,"u":0.507,"J":0.252},{"p":"f","c":6,"s":1,"i":6,"u":0.536,"J":0.175},{"p":"f","c":6,"s":1,"i":7,"u":0.641,"J":0.127},{"p":"f","c":6,"s":1,"i":8,"u":0.786,"J":0.119},{"p":"f","c":6,"s":1,"i":9,"u":1,"J":0.165},
{"p":"f","c":7,"i":0,"u":1,"J":0.223},{"p":"f","c":7,"i":1,"u":0.882,"J":0.185},{"p":"f","c":7,"i":2,"u":0.738,"J":0.17},{"p":"f","c":7,"i":3,"u":0.641,"J":0.194},{"p":"f","c":7,"i":4,"u":0.593,"J":0.262},{"p":"f","c":7,"i":5,"u":0.622,"J":0.338},{"p":"f","c":7,"i":6,"u":0.718,"J":0.406},{"p":"f","c":7,"i":7,"u":0.834,"J":0.449},{"p":"f","c":7,"i":8,"u":0.891,"J":0.444},{"p":"f","c":7,"i":9,"u":0.906,"J":0.406},{"p":"f","c":7,"i":10,"u":0.872,"J":0.365},{"p":"f","c":7,"i":11,"u":0.8,"J":0.342},{"p":"f","c":7,"i":12,"u":0.74,"J":0.322},{"p":"f","c":7,"i":13,"u":0.709,"J":0.281},
{"p":"f","c":8,"s":1,"i":0,"u":1,"J":0.281},{"p":"f","c":8,"s":1,"i":1,"u":0.911,"J":0.245},{"p":"f","c":8,"s":1,"i":2,"u":0.8,"J":0.222},{"p":"f","c":8,"s":1,"i":3,"u":0.7,"J":0.232},{"p":"f","c":8,"s":1,"i":4,"u":0.66,"J":0.262},{"p":"f","c":8,"s":1,"i":5,"u":0.675,"J":0.3},{"p":"f","c":8,"s":1,"i":6,"u":0.72,"J":0.312},{"p":"f","c":8,"s":1,"i":7,"u":0.75,"J":0.298},{"p":"f","c":8,"s":1,"i":8,"u":0.709,"J":0.281},
{"p":"f","c":9,"i":0,"u":1,"J":0.367},{"p":"f","c":9,"i":1,"u":0.93,"J":0.319},{"p":"f","c":9,"i":2,"u":0.834,"J":0.281},{"p":"f","c":9,"i":3,"u":0.738,"J":0.271},{"p":"f","c":9,"i":4,"u":0.709,"J":0.281},

{"p":"g","c":1,"i":0,"u":0.314,"J":1.0},{"p":"g","c":1,"i":1,"u":0.536,"J":0.971},{"p":"g","c":1,"i":2,"u":0.786,"J":0.915},{"p":"g","c":1,"i":3,"u":1,"J":0.875},
{"p":"g","c":2,"i":0,"u":0,"J":0.687},{"p":"g","c":2,"i":1,"u":0.209,"J":0.738},{"p":"g","c":2,"i":2,"u":0.353,"J":0.766},{"p":"g","c":2,"i":3,"u":0.593,"J":0.81},{"p":"g","c":2,"i":4,"u":1,"J":0.875},
{"p":"g","c":3,"i":0,"u":0,"J":0.312},{"p":"g","c":3,"i":1,"u":0.161,"J":0.396},{"p":"g","c":3,"i":2,"u":0.314,"J":0.463},{"p":"g","c":3,"i":3,"u":0.497,"J":0.569},{"p":"g","c":3,"i":4,"u":0.689,"J":0.689},{"p":"g","c":3,"i":5,"u":0.882,"J":0.805},{"p":"g","c":3,"i":6,"u":1,"J":0.875},
{"p":"g","c":4,"s":1,"i":0,"u":0,"J":0},{"p":"g","c":4,"s":1,"i":1,"u":0.209,"J":0.168},{"p":"g","c":4,"s":1,"i":2,"u":0.449,"J":0.363},{"p":"g","c":4,"s":1,"i":3,"u":0.641,"J":0.54},{"p":"g","c":4,"s":1,"i":4,"u":0.834,"J":0.718},{"p":"g","c":4,"s":1,"i":5,"u":1,"J":0.875},
{"p":"g","c":5,"i":0,"u":1,"J":0.036},{"p":"g","c":5,"i":1,"u":0.786,"J":0.05},{"p":"g","c":5,"i":2,"u":0.497,"J":0.069},{"p":"g","c":5,"i":3,"u":0.365,"J":0.079},{"p":"g","c":5,"i":4,"u":0.33,"J":0.117},{"p":"g","c":5,"i":5,"u":0.382,"J":0.194},{"p":"g","c":5,"i":6,"u":0.497,"J":0.338},{"p":"g","c":5,"i":7,"u":0.689,"J":0.54},{"p":"g","c":5,"i":8,"u":0.862,"J":0.712},{"p":"g","c":5,"i":9,"u":1,"J":0.875},
{"p":"g","c":6,"i":0,"u":1,"J":0.064},{"p":"g","c":6,"i":1,"u":0.834,"J":0.088},{"p":"g","c":6,"i":2,"u":0.641,"J":0.127},{"p":"g","c":6,"i":3,"u":0.577,"J":0.175},{"p":"g","c":6,"i":4,"u":0.584,"J":0.252},{"p":"g","c":6,"i":5,"u":0.689,"J":0.406},{"p":"g","c":6,"i":6,"u":0.834,"J":0.579},{"p":"g","c":6,"i":7,"u":0.93,"J":0.714},{"p":"g","c":6,"i":8,"u":1,"J":0.875},
{"p":"g","c":7,"s":1,"i":0,"u":1,"J":0.127},{"p":"g","c":7,"s":1,"i":1,"u":0.882,"J":0.146},{"p":"g","c":7,"s":1,"i":2,"u":0.786,"J":0.175},{"p":"g","c":7,"s":1,"i":3,"u":0.728,"J":0.223},{"p":"g","c":7,"s":1,"i":4,"u":0.713,"J":0.29},{"p":"g","c":7,"s":1,"i":5,"u":0.747,"J":0.358},{"p":"g","c":7,"s":1,"i":6,"u":0.834,"J":0.415},{"p":"g","c":7,"s":1,"i":7,"u":0.93,"J":0.459},{"p":"g","c":7,"s":1,"i":8,"u":1,"J":0.468},
{"p":"g","c":8,"i":0,"u":1,"J":0.295},{"p":"g","c":8,"i":1,"u":0.979,"J":0.228},{"p":"g","c":8,"i":2,"u":0.939,"J":0.199},{"p":"g","c":8,"i":3,"u":0.901,"J":0.192},

{"p":"h","c":1,"i":0,"u":0.218,"J":1.0},{"p":"h","c":1,"i":1,"u":0.536,"J":0.971},{"p":"h","c":1,"i":2,"u":0.786,"J":0.915},{"p":"h","c":1,"i":3,"u":1,"J":0.875},
{"p":"h","c":2,"i":0,"u":0,"J":0.687},{"p":"h","c":2,"i":1,"u":0.209,"J":0.733},{"p":"h","c":2,"i":2,"u":0.353,"J":0.769},{"p":"h","c":2,"i":3,"u":0.593,"J":0.81},{"p":"h","c":2,"i":4,"u":1,"J":0.875},
{"p":"h","c":3,"i":0,"u":0,"J":0.343},{"p":"h","c":3,"i":1,"u":0.161,"J":0.425},{"p":"h","c":3,"i":2,"u":0.286,"J":0.492},{"p":"h","c":3,"i":3,"u":0.497,"J":0.606},{"p":"h","c":3,"i":4,"u":0.738,"J":0.742},{"p":"h","c":3,"i":5,"u":1,"J":0.875},
{"p":"h","c":4,"s":1,"i":0,"u":0,"J":0},{"p":"h","c":4,"s":1,"i":1,"u":0.113,"J":0.079},{"p":"h","c":4,"s":1,"i":2,"u":0.266,"J":0.175},{"p":"h","c":4,"s":1,"i":3,"u":0.449,"J":0.345},{"p":"h","c":4,"s":1,"i":4,"u":0.641,"J":0.53},{"p":"h","c":4,"s":1,"i":5,"u":0.834,"J":0.714},{"p":"h","c":4,"s":1,"i":6,"u":1,"J":0.875},
{"p":"h","c":5,"i":0,"u":1,"J":0.036},{"p":"h","c":5,"i":1,"u":0.786,"J":0.055},{"p":"h","c":5,"i":2,"u":0.593,"J":0.093},{"p":"h","c":5,"i":3,"u":0.468,"J":0.127},{"p":"h","c":5,"i":4,"u":0.459,"J":0.185},{"p":"h","c":5,"i":5,"u":0.516,"J":0.281},{"p":"h","c":5,"i":6,"u":0.641,"J":0.444},{"p":"h","c":5,"i":7,"u":0.786,"J":0.617},{"p":"h","c":5,"i":8,"u":0.906,"J":0.762},{"p":"h","c":5,"i":9,"u":1,"J":0.875},
{"p":"h","c":6,"i":0,"u":1,"J":0.098},{"p":"h","c":6,"i":1,"u":0.882,"J":0.146},{"p":"h","c":6,"i":2,"u":0.815,"J":0.204},{"p":"h","c":6,"i":3,"u":0.776,"J":0.281},{"p":"h","c":6,"i":4,"u":0.786,"J":0.387},{"p":"h","c":6,"i":5,"u":0.843,"J":0.55},{"p":"h","c":6,"i":6,"u":0.93,"J":0.742},{"p":"h","c":6,"i":7,"u":1,"J":0.875},
{"p":"h","c":7,"i":0,"u":1,"J":0.223},{"p":"h","c":7,"i":1,"u":0.93,"J":0.228},{"p":"h","c":7,"i":2,"u":0.891,"J":0.262},{"p":"h","c":7,"i":3,"u":0.872,"J":0.329},{"p":"h","c":7,"i":4,"u":0.882,"J":0.454},{"p":"h","c":7,"i":5,"u":0.93,"J":0.646},{"p":"h","c":7,"i":6,"u":0.978,"J":0.79},{"p":"h","c":7,"i":7,"u":1,"J":0.875},
{"p":"h","c":8,"i":0,"u":1,"J":0.314},{"p":"h","c":8,"i":1,"u":0.959,"J":0.316},{"p":"h","c":8,"i":2,"u":0.944,"J":0.348},{"p":"h","c":8,"i":3,"u":0.949,"J":0.454},{"p":"h","c":8,"i":4,"u":0.963,"J":0.56},{"p":"h","c":8,"i":5,"u":0.978,"J":0.713},{"p":"h","c":8,"i":6,"u":1,"J":0.875},

{"p":"i","c":1,"i":0,"u":0.156,"J":1.0},{"p":"i","c":1,"i":1,"u":0.468,"J":0.975},{"p":"i","c":1,"i":2,"u":0.689,"J":0.935},{"p":"i","c":1,"i":3,"u":1,"J":0.845},
{"p":"i","c":2,"i":0,"u":0,"J":0.718},{"p":"i","c":2,"i":1,"u":0.209,"J":0.747},{"p":"i","c":2,"i":2,"u":0.382,"J":0.776},{"p":"i","c":2,"i":3,"u":0.593,"J":0.805},{"p":"i","c":2,"i":4,"u":1,"J":0.845},
{"p":"i","c":3,"i":0,"u":0,"J":0.314},{"p":"i","c":3,"i":1,"u":0.161,"J":0.396},{"p":"i","c":3,"i":2,"u":0.344,"J":0.497},{"p":"i","c":3,"i":3,"u":0.545,"J":0.608},{"p":"i","c":3,"i":4,"u":0.786,"J":0.742},{"p":"i","c":3,"i":5,"u":1,"J":0.845},
{"p":"i","c":4,"s":1,"i":0,"u":0,"J":0},{"p":"i","c":4,"s":1,"i":1,"u":0.161,"J":0.088},{"p":"i","c":4,"s":1,"i":2,"u":0.305,"J":0.18},{"p":"i","c":4,"s":1,"i":3,"u":0.449,"J":0.31},{"p":"i","c":4,"s":1,"i":4,"u":0.641,"J":0.502},{"p":"i","c":4,"s":1,"i":5,"u":0.834,"J":0.713},{"p":"i","c":4,"s":1,"i":6,"u":1,"J":0.845},
{"p":"i","c":5,"i":0,"u":1,"J":0.064},{"p":"i","c":5,"i":1,"u":0.834,"J":0.088},{"p":"i","c":5,"i":2,"u":0.641,"J":0.127},{"p":"i","c":5,"i":3,"u":0.584,"J":0.185},{"p":"i","c":5,"i":4,"u":0.613,"J":0.281},{"p":"i","c":5,"i":5,"u":0.738,"J":0.473},{"p":"i","c":5,"i":6,"u":0.882,"J":0.675},{"p":"i","c":5,"i":7,"u":1,"J":0.845},
{"p":"i","c":6,"i":0,"u":1,"J":0.194},{"p":"i","c":6,"i":1,"u":0.882,"J":0.242},{"p":"i","c":6,"i":2,"u":0.834,"J":0.281},{"p":"i","c":6,"i":3,"u":0.829,"J":0.377},{"p":"i","c":6,"i":4,"u":0.863,"J":0.521},{"p":"i","c":6,"i":5,"u":0.93,"J":0.675},{"p":"i","c":6,"i":6,"u":1,"J":0.845},
{"p":"i","c":7,"i":0,"u":1,"J":0.286},{"p":"i","c":7,"i":1,"u":0.978,"J":0.319},{"p":"i","c":7,"i":2,"u":0.944,"J":0.365},{"p":"i","c":7,"i":3,"u":0.944,"J":0.452},{"p":"i","c":7,"i":4,"u":0.959,"J":0.596},{"p":"i","c":7,"i":5,"u":1,"J":0.845}
]
},
"concat":[
{"width":434,"height":477,"encoding":{"x":{"field":"u","type":"quantitative","scale":{"domain":[-0.176,1.076],"nice":false,"zero":false},"axis":null},"y":{"field":"J","type":"quantitative","scale":{"domain":[-0.202,1.174],"nice":false,"zero":false},"axis":null}},"layer":[
{"data":{"name":"ax"},"transform":[{"filter":"datum.c=='k'"}],"mark":{"type":"line","color":"#000","strokeWidth":1.5,"strokeDash":[2,4]},"encoding":{"order":{"field":"i"}}},
{"data":{"name":"cv"},"transform":[{"filter":"datum.p=='a'&&!datum.s"}],"mark":{"type":"line","interpolate":"catmull-rom","color":"#000","strokeWidth":1.6},"encoding":{"detail":{"field":"c"},"order":{"field":"i"}}},
{"data":{"name":"cv"},"transform":[{"filter":"datum.p=='a'&&datum.s"}],"mark":{"type":"line","interpolate":"catmull-rom","color":"#000","strokeWidth":2.7},"encoding":{"detail":{"field":"c"},"order":{"field":"i"}}},
{"data":{"name":"ax"},"transform":[{"filter":"datum.c!='k'"}],"mark":{"type":"line","color":"#000","strokeWidth":1.4},"encoding":{"detail":{"field":"c"},"order":{"field":"i"}}},
{"data":{"name":"tp"},"mark":{"type":"point","shape":"M1,0L-1,-0.26L-1,0.26Z","size":650,"filled":true,"fill":"#fff","stroke":"#000","strokeWidth":1.3,"opacity":1},"encoding":{"angle":{"field":"a","type":"quantitative","scale":null}}},
{"data":{"name":"ar"},"transform":[{"filter":"datum.p=='a'"}],"mark":{"type":"point","shape":"M1,0L-1,-0.4L-0.5,0L-1,0.4Z","size":850,"filled":true,"color":"#000","opacity":1},"encoding":{"angle":{"field":"a","type":"quantitative","scale":null}}},
{"data":{"name":"fp"},"transform":[{"filter":"datum.p=='a'||datum.p=='*'"}],"mark":{"type":"circle","size":150,"color":"#000","opacity":1}},
{"data":{"name":"tx"},"transform":[{"filter":"(datum.p=='a'||datum.p=='*'||datum.p=='L')&&datum.k=='m'"}],"mark":{"type":"text","fontStyle":"italic","fontSize":28},"encoding":{"text":{"field":"t"}}},
{"data":{"name":"tx"},"transform":[{"filter":"(datum.p=='a'||datum.p=='*'||datum.p=='L')&&datum.k=='s'"}],"mark":{"type":"text","fontStyle":"italic","fontSize":19},"encoding":{"text":{"field":"t"}}},
{"data":{"name":"tx"},"transform":[{"filter":"datum.p=='a'&&datum.k=='r'"}],"mark":{"type":"text","fontSize":25},"encoding":{"text":{"field":"t"}}},
{"data":{"name":"tx"},"transform":[{"filter":"datum.p=='a'&&datum.k=='o'"}],"mark":{"type":"text","fontSize":32},"encoding":{"text":{"field":"t"}}},
{"data":{"name":"tx"},"transform":[{"filter":"datum.p=='a'&&datum.k=='n'"}],"mark":{"type":"text","fontSize":19},"encoding":{"text":{"field":"t"}}},
{"data":{"name":"tx"},"transform":[{"filter":"datum.p=='a'&&datum.k=='ts'"}],"mark":{"type":"text","fontStyle":"italic","fontSize":17},"encoding":{"text":{"field":"t"}}},
{"data":{"name":"tx"},"transform":[{"filter":"datum.p=='a'&&datum.k=='tn'"}],"mark":{"type":"text","fontSize":17},"encoding":{"text":{"field":"t"}}}
]},
{"width":434,"height":477,"encoding":{"x":{"field":"u","type":"quantitative","scale":{"domain":[-0.176,1.076],"nice":false,"zero":false},"axis":null},"y":{"field":"J","type":"quantitative","scale":{"domain":[-0.202,1.174],"nice":false,"zero":false},"axis":null}},"layer":[
{"data":{"name":"ax"},"transform":[{"filter":"datum.c=='k'"}],"mark":{"type":"line","color":"#000","strokeWidth":1.5,"strokeDash":[2,4]},"encoding":{"order":{"field":"i"}}},
{"data":{"name":"cv"},"transform":[{"filter":"datum.p=='b'&&!datum.s"}],"mark":{"type":"line","interpolate":"catmull-rom","color":"#000","strokeWidth":1.6},"encoding":{"detail":{"field":"c"},"order":{"field":"i"}}},
{"data":{"name":"cv"},"transform":[{"filter":"datum.p=='b'&&datum.s"}],"mark":{"type":"line","interpolate":"catmull-rom","color":"#000","strokeWidth":2.7},"encoding":{"detail":{"field":"c"},"order":{"field":"i"}}},
{"data":{"name":"ax"},"transform":[{"filter":"datum.c!='k'"}],"mark":{"type":"line","color":"#000","strokeWidth":1.4},"encoding":{"detail":{"field":"c"},"order":{"field":"i"}}},
{"data":{"name":"tp"},"mark":{"type":"point","shape":"M1,0L-1,-0.26L-1,0.26Z","size":650,"filled":true,"fill":"#fff","stroke":"#000","strokeWidth":1.3,"opacity":1},"encoding":{"angle":{"field":"a","type":"quantitative","scale":null}}},
{"data":{"name":"ar"},"transform":[{"filter":"datum.p=='b'"}],"mark":{"type":"point","shape":"M1,0L-1,-0.4L-0.5,0L-1,0.4Z","size":850,"filled":true,"color":"#000","opacity":1},"encoding":{"angle":{"field":"a","type":"quantitative","scale":null}}},
{"data":{"name":"fp"},"transform":[{"filter":"datum.p=='b'||datum.p=='*'"}],"mark":{"type":"circle","size":150,"color":"#000","opacity":1}},
{"data":{"name":"tx"},"transform":[{"filter":"(datum.p=='b'||datum.p=='*'||datum.p=='L')&&datum.k=='m'"}],"mark":{"type":"text","fontStyle":"italic","fontSize":28},"encoding":{"text":{"field":"t"}}},
{"data":{"name":"tx"},"transform":[{"filter":"(datum.p=='b'||datum.p=='*'||datum.p=='L')&&datum.k=='s'"}],"mark":{"type":"text","fontStyle":"italic","fontSize":19},"encoding":{"text":{"field":"t"}}},
{"data":{"name":"tx"},"transform":[{"filter":"datum.p=='b'&&datum.k=='r'"}],"mark":{"type":"text","fontSize":25},"encoding":{"text":{"field":"t"}}},
{"data":{"name":"tx"},"transform":[{"filter":"datum.p=='b'&&datum.k=='o'"}],"mark":{"type":"text","fontSize":32},"encoding":{"text":{"field":"t"}}},
{"data":{"name":"tx"},"transform":[{"filter":"datum.p=='b'&&datum.k=='n'"}],"mark":{"type":"text","fontSize":19},"encoding":{"text":{"field":"t"}}},
{"data":{"name":"tx"},"transform":[{"filter":"datum.p=='b'&&datum.k=='ts'"}],"mark":{"type":"text","fontStyle":"italic","fontSize":17},"encoding":{"text":{"field":"t"}}},
{"data":{"name":"tx"},"transform":[{"filter":"datum.p=='b'&&datum.k=='tn'"}],"mark":{"type":"text","fontSize":17},"encoding":{"text":{"field":"t"}}}
]},
{"width":434,"height":477,"encoding":{"x":{"field":"u","type":"quantitative","scale":{"domain":[-0.176,1.076],"nice":false,"zero":false},"axis":null},"y":{"field":"J","type":"quantitative","scale":{"domain":[-0.202,1.174],"nice":false,"zero":false},"axis":null}},"layer":[
{"data":{"name":"ax"},"transform":[{"filter":"datum.c=='k'"}],"mark":{"type":"line","color":"#000","strokeWidth":1.5,"strokeDash":[2,4]},"encoding":{"order":{"field":"i"}}},
{"data":{"name":"cv"},"transform":[{"filter":"datum.p=='c'&&!datum.s"}],"mark":{"type":"line","interpolate":"catmull-rom","color":"#000","strokeWidth":1.6},"encoding":{"detail":{"field":"c"},"order":{"field":"i"}}},
{"data":{"name":"cv"},"transform":[{"filter":"datum.p=='c'&&datum.s"}],"mark":{"type":"line","interpolate":"catmull-rom","color":"#000","strokeWidth":2.7},"encoding":{"detail":{"field":"c"},"order":{"field":"i"}}},
{"data":{"name":"ax"},"transform":[{"filter":"datum.c!='k'"}],"mark":{"type":"line","color":"#000","strokeWidth":1.4},"encoding":{"detail":{"field":"c"},"order":{"field":"i"}}},
{"data":{"name":"tp"},"mark":{"type":"point","shape":"M1,0L-1,-0.26L-1,0.26Z","size":650,"filled":true,"fill":"#fff","stroke":"#000","strokeWidth":1.3,"opacity":1},"encoding":{"angle":{"field":"a","type":"quantitative","scale":null}}},
{"data":{"name":"ar"},"transform":[{"filter":"datum.p=='c'"}],"mark":{"type":"point","shape":"M1,0L-1,-0.4L-0.5,0L-1,0.4Z","size":850,"filled":true,"color":"#000","opacity":1},"encoding":{"angle":{"field":"a","type":"quantitative","scale":null}}},
{"data":{"name":"fp"},"transform":[{"filter":"datum.p=='c'||datum.p=='*'"}],"mark":{"type":"circle","size":150,"color":"#000","opacity":1}},
{"data":{"name":"tx"},"transform":[{"filter":"(datum.p=='c'||datum.p=='*'||datum.p=='L')&&datum.k=='m'"}],"mark":{"type":"text","fontStyle":"italic","fontSize":28},"encoding":{"text":{"field":"t"}}},
{"data":{"name":"tx"},"transform":[{"filter":"(datum.p=='c'||datum.p=='*'||datum.p=='L')&&datum.k=='s'"}],"mark":{"type":"text","fontStyle":"italic","fontSize":19},"encoding":{"text":{"field":"t"}}},
{"data":{"name":"tx"},"transform":[{"filter":"datum.p=='c'&&datum.k=='r'"}],"mark":{"type":"text","fontSize":25},"encoding":{"text":{"field":"t"}}},
{"data":{"name":"tx"},"transform":[{"filter":"datum.p=='c'&&datum.k=='o'"}],"mark":{"type":"text","fontSize":32},"encoding":{"text":{"field":"t"}}},
{"data":{"name":"tx"},"transform":[{"filter":"datum.p=='c'&&datum.k=='n'"}],"mark":{"type":"text","fontSize":19},"encoding":{"text":{"field":"t"}}},
{"data":{"name":"tx"},"transform":[{"filter":"datum.p=='c'&&datum.k=='ts'"}],"mark":{"type":"text","fontStyle":"italic","fontSize":17},"encoding":{"text":{"field":"t"}}},
{"data":{"name":"tx"},"transform":[{"filter":"datum.p=='c'&&datum.k=='tn'"}],"mark":{"type":"text","fontSize":17},"encoding":{"text":{"field":"t"}}}
]},
{"width":434,"height":477,"encoding":{"x":{"field":"u","type":"quantitative","scale":{"domain":[-0.176,1.076],"nice":false,"zero":false},"axis":null},"y":{"field":"J","type":"quantitative","scale":{"domain":[-0.202,1.174],"nice":false,"zero":false},"axis":null}},"layer":[
{"data":{"name":"ax"},"transform":[{"filter":"datum.c=='k'"}],"mark":{"type":"line","color":"#000","strokeWidth":1.5,"strokeDash":[2,4]},"encoding":{"order":{"field":"i"}}},
{"data":{"name":"cv"},"transform":[{"filter":"datum.p=='d'&&!datum.s"}],"mark":{"type":"line","interpolate":"catmull-rom","color":"#000","strokeWidth":1.6},"encoding":{"detail":{"field":"c"},"order":{"field":"i"}}},
{"data":{"name":"cv"},"transform":[{"filter":"datum.p=='d'&&datum.s"}],"mark":{"type":"line","interpolate":"catmull-rom","color":"#000","strokeWidth":2.7},"encoding":{"detail":{"field":"c"},"order":{"field":"i"}}},
{"data":{"name":"ax"},"transform":[{"filter":"datum.c!='k'"}],"mark":{"type":"line","color":"#000","strokeWidth":1.4},"encoding":{"detail":{"field":"c"},"order":{"field":"i"}}},
{"data":{"name":"tp"},"mark":{"type":"point","shape":"M1,0L-1,-0.26L-1,0.26Z","size":650,"filled":true,"fill":"#fff","stroke":"#000","strokeWidth":1.3,"opacity":1},"encoding":{"angle":{"field":"a","type":"quantitative","scale":null}}},
{"data":{"name":"ar"},"transform":[{"filter":"datum.p=='d'"}],"mark":{"type":"point","shape":"M1,0L-1,-0.4L-0.5,0L-1,0.4Z","size":850,"filled":true,"color":"#000","opacity":1},"encoding":{"angle":{"field":"a","type":"quantitative","scale":null}}},
{"data":{"name":"fp"},"transform":[{"filter":"datum.p=='d'||datum.p=='*'"}],"mark":{"type":"circle","size":150,"color":"#000","opacity":1}},
{"data":{"name":"tx"},"transform":[{"filter":"(datum.p=='d'||datum.p=='*'||datum.p=='L')&&datum.k=='m'"}],"mark":{"type":"text","fontStyle":"italic","fontSize":28},"encoding":{"text":{"field":"t"}}},
{"data":{"name":"tx"},"transform":[{"filter":"(datum.p=='d'||datum.p=='*'||datum.p=='L')&&datum.k=='s'"}],"mark":{"type":"text","fontStyle":"italic","fontSize":19},"encoding":{"text":{"field":"t"}}},
{"data":{"name":"tx"},"transform":[{"filter":"datum.p=='d'&&datum.k=='r'"}],"mark":{"type":"text","fontSize":25},"encoding":{"text":{"field":"t"}}},
{"data":{"name":"tx"},"transform":[{"filter":"datum.p=='d'&&datum.k=='o'"}],"mark":{"type":"text","fontSize":32},"encoding":{"text":{"field":"t"}}},
{"data":{"name":"tx"},"transform":[{"filter":"datum.p=='d'&&datum.k=='n'"}],"mark":{"type":"text","fontSize":19},"encoding":{"text":{"field":"t"}}},
{"data":{"name":"tx"},"transform":[{"filter":"datum.p=='d'&&datum.k=='ts'"}],"mark":{"type":"text","fontStyle":"italic","fontSize":17},"encoding":{"text":{"field":"t"}}},
{"data":{"name":"tx"},"transform":[{"filter":"datum.p=='d'&&datum.k=='tn'"}],"mark":{"type":"text","fontSize":17},"encoding":{"text":{"field":"t"}}}
]},
{"width":434,"height":477,"encoding":{"x":{"field":"u","type":"quantitative","scale":{"domain":[-0.176,1.076],"nice":false,"zero":false},"axis":null},"y":{"field":"J","type":"quantitative","scale":{"domain":[-0.202,1.174],"nice":false,"zero":false},"axis":null}},"layer":[
{"data":{"name":"ax"},"transform":[{"filter":"datum.c=='k'"}],"mark":{"type":"line","color":"#000","strokeWidth":1.5,"strokeDash":[2,4]},"encoding":{"order":{"field":"i"}}},
{"data":{"name":"cv"},"transform":[{"filter":"datum.p=='e'&&!datum.s"}],"mark":{"type":"line","interpolate":"catmull-rom","color":"#000","strokeWidth":1.6},"encoding":{"detail":{"field":"c"},"order":{"field":"i"}}},
{"data":{"name":"cv"},"transform":[{"filter":"datum.p=='e'&&datum.s"}],"mark":{"type":"line","interpolate":"catmull-rom","color":"#000","strokeWidth":2.7},"encoding":{"detail":{"field":"c"},"order":{"field":"i"}}},
{"data":{"name":"ax"},"transform":[{"filter":"datum.c!='k'"}],"mark":{"type":"line","color":"#000","strokeWidth":1.4},"encoding":{"detail":{"field":"c"},"order":{"field":"i"}}},
{"data":{"name":"tp"},"mark":{"type":"point","shape":"M1,0L-1,-0.26L-1,0.26Z","size":650,"filled":true,"fill":"#fff","stroke":"#000","strokeWidth":1.3,"opacity":1},"encoding":{"angle":{"field":"a","type":"quantitative","scale":null}}},
{"data":{"name":"ar"},"transform":[{"filter":"datum.p=='e'"}],"mark":{"type":"point","shape":"M1,0L-1,-0.4L-0.5,0L-1,0.4Z","size":850,"filled":true,"color":"#000","opacity":1},"encoding":{"angle":{"field":"a","type":"quantitative","scale":null}}},
{"data":{"name":"fp"},"transform":[{"filter":"datum.p=='e'||datum.p=='*'"}],"mark":{"type":"circle","size":150,"color":"#000","opacity":1}},
{"data":{"name":"tx"},"transform":[{"filter":"(datum.p=='e'||datum.p=='*'||datum.p=='L')&&datum.k=='m'"}],"mark":{"type":"text","fontStyle":"italic","fontSize":28},"encoding":{"text":{"field":"t"}}},
{"data":{"name":"tx"},"transform":[{"filter":"(datum.p=='e'||datum.p=='*'||datum.p=='L')&&datum.k=='s'"}],"mark":{"type":"text","fontStyle":"italic","fontSize":19},"encoding":{"text":{"field":"t"}}},
{"data":{"name":"tx"},"transform":[{"filter":"datum.p=='e'&&datum.k=='r'"}],"mark":{"type":"text","fontSize":25},"encoding":{"text":{"field":"t"}}},
{"data":{"name":"tx"},"transform":[{"filter":"datum.p=='e'&&datum.k=='o'"}],"mark":{"type":"text","fontSize":32},"encoding":{"text":{"field":"t"}}},
{"data":{"name":"tx"},"transform":[{"filter":"datum.p=='e'&&datum.k=='n'"}],"mark":{"type":"text","fontSize":19},"encoding":{"text":{"field":"t"}}},
{"data":{"name":"tx"},"transform":[{"filter":"datum.p=='e'&&datum.k=='ts'"}],"mark":{"type":"text","fontStyle":"italic","fontSize":17},"encoding":{"text":{"field":"t"}}},
{"data":{"name":"tx"},"transform":[{"filter":"datum.p=='e'&&datum.k=='tn'"}],"mark":{"type":"text","fontSize":17},"encoding":{"text":{"field":"t"}}}
]},
{"width":434,"height":477,"encoding":{"x":{"field":"u","type":"quantitative","scale":{"domain":[-0.176,1.076],"nice":false,"zero":false},"axis":null},"y":{"field":"J","type":"quantitative","scale":{"domain":[-0.202,1.174],"nice":false,"zero":false},"axis":null}},"layer":[
{"data":{"name":"ax"},"transform":[{"filter":"datum.c=='k'"}],"mark":{"type":"line","color":"#000","strokeWidth":1.5,"strokeDash":[2,4]},"encoding":{"order":{"field":"i"}}},
{"data":{"name":"cv"},"transform":[{"filter":"datum.p=='f'&&!datum.s"}],"mark":{"type":"line","interpolate":"catmull-rom","color":"#000","strokeWidth":1.6},"encoding":{"detail":{"field":"c"},"order":{"field":"i"}}},
{"data":{"name":"cv"},"transform":[{"filter":"datum.p=='f'&&datum.s"}],"mark":{"type":"line","interpolate":"catmull-rom","color":"#000","strokeWidth":2.7},"encoding":{"detail":{"field":"c"},"order":{"field":"i"}}},
{"data":{"name":"ax"},"transform":[{"filter":"datum.c!='k'"}],"mark":{"type":"line","color":"#000","strokeWidth":1.4},"encoding":{"detail":{"field":"c"},"order":{"field":"i"}}},
{"data":{"name":"tp"},"mark":{"type":"point","shape":"M1,0L-1,-0.26L-1,0.26Z","size":650,"filled":true,"fill":"#fff","stroke":"#000","strokeWidth":1.3,"opacity":1},"encoding":{"angle":{"field":"a","type":"quantitative","scale":null}}},
{"data":{"name":"ar"},"transform":[{"filter":"datum.p=='f'"}],"mark":{"type":"point","shape":"M1,0L-1,-0.4L-0.5,0L-1,0.4Z","size":850,"filled":true,"color":"#000","opacity":1},"encoding":{"angle":{"field":"a","type":"quantitative","scale":null}}},
{"data":{"name":"fp"},"transform":[{"filter":"datum.p=='f'||datum.p=='*'"}],"mark":{"type":"circle","size":150,"color":"#000","opacity":1}},
{"data":{"name":"tx"},"transform":[{"filter":"(datum.p=='f'||datum.p=='*'||datum.p=='L')&&datum.k=='m'"}],"mark":{"type":"text","fontStyle":"italic","fontSize":28},"encoding":{"text":{"field":"t"}}},
{"data":{"name":"tx"},"transform":[{"filter":"(datum.p=='f'||datum.p=='*'||datum.p=='L')&&datum.k=='s'"}],"mark":{"type":"text","fontStyle":"italic","fontSize":19},"encoding":{"text":{"field":"t"}}},
{"data":{"name":"tx"},"transform":[{"filter":"datum.p=='f'&&datum.k=='r'"}],"mark":{"type":"text","fontSize":25},"encoding":{"text":{"field":"t"}}},
{"data":{"name":"tx"},"transform":[{"filter":"datum.p=='f'&&datum.k=='o'"}],"mark":{"type":"text","fontSize":32},"encoding":{"text":{"field":"t"}}},
{"data":{"name":"tx"},"transform":[{"filter":"datum.p=='f'&&datum.k=='n'"}],"mark":{"type":"text","fontSize":19},"encoding":{"text":{"field":"t"}}},
{"data":{"name":"tx"},"transform":[{"filter":"datum.p=='f'&&datum.k=='ts'"}],"mark":{"type":"text","fontStyle":"italic","fontSize":17},"encoding":{"text":{"field":"t"}}},
{"data":{"name":"tx"},"transform":[{"filter":"datum.p=='f'&&datum.k=='tn'"}],"mark":{"type":"text","fontSize":17},"encoding":{"text":{"field":"t"}}}
]},
{"width":434,"height":442,"encoding":{"x":{"field":"u","type":"quantitative","scale":{"domain":[-0.176,1.076],"nice":false,"zero":false},"axis":null},"y":{"field":"J","type":"quantitative","scale":{"domain":[-0.101,1.174],"nice":false,"zero":false},"axis":null}},"layer":[
{"data":{"name":"ax"},"transform":[{"filter":"datum.c=='k'"}],"mark":{"type":"line","color":"#000","strokeWidth":1.5,"strokeDash":[2,4]},"encoding":{"order":{"field":"i"}}},
{"data":{"name":"cv"},"transform":[{"filter":"datum.p=='g'&&!datum.s"}],"mark":{"type":"line","interpolate":"catmull-rom","color":"#000","strokeWidth":1.6},"encoding":{"detail":{"field":"c"},"order":{"field":"i"}}},
{"data":{"name":"cv"},"transform":[{"filter":"datum.p=='g'&&datum.s"}],"mark":{"type":"line","interpolate":"catmull-rom","color":"#000","strokeWidth":2.7},"encoding":{"detail":{"field":"c"},"order":{"field":"i"}}},
{"data":{"name":"cy"},"mark":{"type":"point","shape":"circle","size":2640,"filled":false,"color":"#000","strokeWidth":1.6,"opacity":1}},
{"data":{"name":"ax"},"transform":[{"filter":"datum.c!='k'"}],"mark":{"type":"line","color":"#000","strokeWidth":1.4},"encoding":{"detail":{"field":"c"},"order":{"field":"i"}}},
{"data":{"name":"tp"},"mark":{"type":"point","shape":"M1,0L-1,-0.26L-1,0.26Z","size":650,"filled":true,"fill":"#fff","stroke":"#000","strokeWidth":1.3,"opacity":1},"encoding":{"angle":{"field":"a","type":"quantitative","scale":null}}},
{"data":{"name":"ar"},"transform":[{"filter":"datum.p=='g'"}],"mark":{"type":"point","shape":"M1,0L-1,-0.4L-0.5,0L-1,0.4Z","size":850,"filled":true,"color":"#000","opacity":1},"encoding":{"angle":{"field":"a","type":"quantitative","scale":null}}},
{"data":{"name":"fp"},"transform":[{"filter":"datum.p=='g'||datum.p=='*'"}],"mark":{"type":"circle","size":150,"color":"#000","opacity":1}},
{"data":{"name":"tx"},"transform":[{"filter":"(datum.p=='g'||datum.p=='*'||datum.p=='L')&&datum.k=='m'"}],"mark":{"type":"text","fontStyle":"italic","fontSize":28},"encoding":{"text":{"field":"t"}}},
{"data":{"name":"tx"},"transform":[{"filter":"(datum.p=='g'||datum.p=='*'||datum.p=='L')&&datum.k=='s'"}],"mark":{"type":"text","fontStyle":"italic","fontSize":19},"encoding":{"text":{"field":"t"}}},
{"data":{"name":"tx"},"transform":[{"filter":"datum.p=='g'&&datum.k=='r'"}],"mark":{"type":"text","fontSize":25},"encoding":{"text":{"field":"t"}}},
{"data":{"name":"tx"},"transform":[{"filter":"datum.p=='g'&&datum.k=='o'"}],"mark":{"type":"text","fontSize":32},"encoding":{"text":{"field":"t"}}},
{"data":{"name":"tx"},"transform":[{"filter":"datum.p=='g'&&datum.k=='n'"}],"mark":{"type":"text","fontSize":19},"encoding":{"text":{"field":"t"}}},
{"data":{"name":"tx"},"transform":[{"filter":"datum.p=='g'&&datum.k=='ts'"}],"mark":{"type":"text","fontStyle":"italic","fontSize":17},"encoding":{"text":{"field":"t"}}},
{"data":{"name":"tx"},"transform":[{"filter":"datum.p=='g'&&datum.k=='tn'"}],"mark":{"type":"text","fontSize":17},"encoding":{"text":{"field":"t"}}}
]},
{"width":434,"height":442,"encoding":{"x":{"field":"u","type":"quantitative","scale":{"domain":[-0.176,1.076],"nice":false,"zero":false},"axis":null},"y":{"field":"J","type":"quantitative","scale":{"domain":[-0.101,1.174],"nice":false,"zero":false},"axis":null}},"layer":[
{"data":{"name":"ax"},"transform":[{"filter":"datum.c=='k'"}],"mark":{"type":"line","color":"#000","strokeWidth":1.5,"strokeDash":[2,4]},"encoding":{"order":{"field":"i"}}},
{"data":{"name":"cv"},"transform":[{"filter":"datum.p=='h'&&!datum.s"}],"mark":{"type":"line","interpolate":"catmull-rom","color":"#000","strokeWidth":1.6},"encoding":{"detail":{"field":"c"},"order":{"field":"i"}}},
{"data":{"name":"cv"},"transform":[{"filter":"datum.p=='h'&&datum.s"}],"mark":{"type":"line","interpolate":"catmull-rom","color":"#000","strokeWidth":2.7},"encoding":{"detail":{"field":"c"},"order":{"field":"i"}}},
{"data":{"name":"ax"},"transform":[{"filter":"datum.c!='k'"}],"mark":{"type":"line","color":"#000","strokeWidth":1.4},"encoding":{"detail":{"field":"c"},"order":{"field":"i"}}},
{"data":{"name":"tp"},"mark":{"type":"point","shape":"M1,0L-1,-0.26L-1,0.26Z","size":650,"filled":true,"fill":"#fff","stroke":"#000","strokeWidth":1.3,"opacity":1},"encoding":{"angle":{"field":"a","type":"quantitative","scale":null}}},
{"data":{"name":"ar"},"transform":[{"filter":"datum.p=='h'"}],"mark":{"type":"point","shape":"M1,0L-1,-0.4L-0.5,0L-1,0.4Z","size":850,"filled":true,"color":"#000","opacity":1},"encoding":{"angle":{"field":"a","type":"quantitative","scale":null}}},
{"data":{"name":"fp"},"transform":[{"filter":"datum.p=='h'||datum.p=='*'"}],"mark":{"type":"circle","size":150,"color":"#000","opacity":1}},
{"data":{"name":"tx"},"transform":[{"filter":"(datum.p=='h'||datum.p=='*'||datum.p=='L')&&datum.k=='m'"}],"mark":{"type":"text","fontStyle":"italic","fontSize":28},"encoding":{"text":{"field":"t"}}},
{"data":{"name":"tx"},"transform":[{"filter":"(datum.p=='h'||datum.p=='*'||datum.p=='L')&&datum.k=='s'"}],"mark":{"type":"text","fontStyle":"italic","fontSize":19},"encoding":{"text":{"field":"t"}}},
{"data":{"name":"tx"},"transform":[{"filter":"datum.p=='h'&&datum.k=='r'"}],"mark":{"type":"text","fontSize":25},"encoding":{"text":{"field":"t"}}},
{"data":{"name":"tx"},"transform":[{"filter":"datum.p=='h'&&datum.k=='o'"}],"mark":{"type":"text","fontSize":32},"encoding":{"text":{"field":"t"}}},
{"data":{"name":"tx"},"transform":[{"filter":"datum.p=='h'&&datum.k=='n'"}],"mark":{"type":"text","fontSize":19},"encoding":{"text":{"field":"t"}}},
{"data":{"name":"tx"},"transform":[{"filter":"datum.p=='h'&&datum.k=='ts'"}],"mark":{"type":"text","fontStyle":"italic","fontSize":17},"encoding":{"text":{"field":"t"}}},
{"data":{"name":"tx"},"transform":[{"filter":"datum.p=='h'&&datum.k=='tn'"}],"mark":{"type":"text","fontSize":17},"encoding":{"text":{"field":"t"}}}
]},
{"width":434,"height":442,"encoding":{"x":{"field":"u","type":"quantitative","scale":{"domain":[-0.176,1.076],"nice":false,"zero":false},"axis":null},"y":{"field":"J","type":"quantitative","scale":{"domain":[-0.101,1.174],"nice":false,"zero":false},"axis":null}},"layer":[
{"data":{"name":"ax"},"transform":[{"filter":"datum.c=='k'"}],"mark":{"type":"line","color":"#000","strokeWidth":1.5,"strokeDash":[2,4]},"encoding":{"order":{"field":"i"}}},
{"data":{"name":"cv"},"transform":[{"filter":"datum.p=='i'&&!datum.s"}],"mark":{"type":"line","interpolate":"catmull-rom","color":"#000","strokeWidth":1.6},"encoding":{"detail":{"field":"c"},"order":{"field":"i"}}},
{"data":{"name":"cv"},"transform":[{"filter":"datum.p=='i'&&datum.s"}],"mark":{"type":"line","interpolate":"catmull-rom","color":"#000","strokeWidth":2.7},"encoding":{"detail":{"field":"c"},"order":{"field":"i"}}},
{"data":{"name":"ax"},"transform":[{"filter":"datum.c!='k'"}],"mark":{"type":"line","color":"#000","strokeWidth":1.4},"encoding":{"detail":{"field":"c"},"order":{"field":"i"}}},
{"data":{"name":"tp"},"mark":{"type":"point","shape":"M1,0L-1,-0.26L-1,0.26Z","size":650,"filled":true,"fill":"#fff","stroke":"#000","strokeWidth":1.3,"opacity":1},"encoding":{"angle":{"field":"a","type":"quantitative","scale":null}}},
{"data":{"name":"ar"},"transform":[{"filter":"datum.p=='i'"}],"mark":{"type":"point","shape":"M1,0L-1,-0.4L-0.5,0L-1,0.4Z","size":850,"filled":true,"color":"#000","opacity":1},"encoding":{"angle":{"field":"a","type":"quantitative","scale":null}}},
{"data":{"name":"fp"},"transform":[{"filter":"datum.p=='i'||datum.p=='*'"}],"mark":{"type":"circle","size":150,"color":"#000","opacity":1}},
{"data":{"name":"tx"},"transform":[{"filter":"(datum.p=='i'||datum.p=='*')&&datum.k=='m'"}],"mark":{"type":"text","fontStyle":"italic","fontSize":28},"encoding":{"text":{"field":"t"}}},
{"data":{"name":"tx"},"transform":[{"filter":"(datum.p=='i'||datum.p=='*')&&datum.k=='s'"}],"mark":{"type":"text","fontStyle":"italic","fontSize":19},"encoding":{"text":{"field":"t"}}},
{"data":{"name":"tx"},"transform":[{"filter":"datum.p=='i'&&datum.k=='r'"}],"mark":{"type":"text","fontSize":25},"encoding":{"text":{"field":"t"}}},
{"data":{"name":"tx"},"transform":[{"filter":"datum.p=='i'&&datum.k=='o'"}],"mark":{"type":"text","fontSize":32},"encoding":{"text":{"field":"t"}}},
{"data":{"name":"tx"},"transform":[{"filter":"datum.p=='i'&&datum.k=='n'"}],"mark":{"type":"text","fontSize":19},"encoding":{"text":{"field":"t"}}},
{"data":{"name":"tx"},"transform":[{"filter":"datum.p=='i'&&datum.k=='ts'"}],"mark":{"type":"text","fontStyle":"italic","fontSize":17},"encoding":{"text":{"field":"t"}}},
{"data":{"name":"tx"},"transform":[{"filter":"datum.p=='i'&&datum.k=='tn'"}],"mark":{"type":"text","fontSize":17},"encoding":{"text":{"field":"t"}}}
]}
]
}
